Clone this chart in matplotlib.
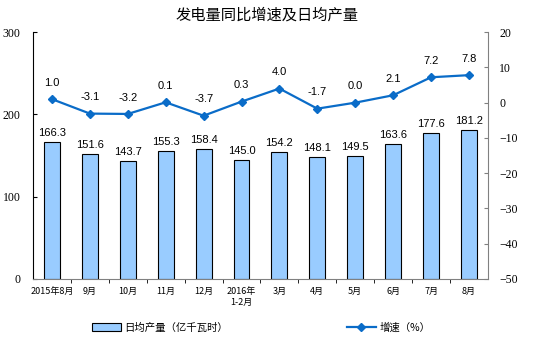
import matplotlib.pyplot as plt
from matplotlib.lines import Line2D
from matplotlib.patches import Patch

plt.rcParams['font.family'] = ['Noto Sans CJK SC', 'DejaVu Sans']

months = ['2015年8月', '9月', '10月', '11月', '12月', '2016年\n1-2月',
          '3月', '4月', '5月', '6月', '7月', '8月']
daily_output = [166.3, 151.6, 143.7, 155.3, 158.4, 145.0, 154.2, 148.1, 149.5, 163.6, 177.6, 181.2]
growth = [1.0, -3.1, -3.2, 0.1, -3.7, 0.3, 4.0, -1.7, 0.0, 2.1, 7.2, 7.8]

bar_color = '#99CCFF'
line_color = '#0A6CC8'

fig = plt.figure(figsize=(5.35, 3.57), dpi=100)
ax = fig.add_axes([0.0617, 0.2185, 0.8503, 0.6915])
ax2 = ax.twinx()

x = list(range(len(months)))
ax.bar(x, daily_output, width=0.42, color=bar_color, edgecolor='black', linewidth=0.8, zorder=2)
for xi, v in zip(x, daily_output):
    ax.text(xi, v + 5, f'{v:.1f}', ha='center', va='bottom', fontsize=8,
            family='Liberation Sans')

ax2.plot(x, growth, color=line_color, linewidth=1.6, marker='D', markersize=4, zorder=3)
for xi, v in zip(x, growth):
    ax2.text(xi, v + 3.2, f'{v:.1f}', ha='center', va='bottom', fontsize=8,
             family='Liberation Sans')

ax.set_xlim(-0.5, len(months) - 0.5)
ax.set_ylim(0, 300)
ax.set_yticks([0, 100, 200, 300])
ax2.set_ylim(-50, 20)
ax2.set_yticks(range(-50, 21, 10))

ax.set_xticks(x)
ax.set_xticklabels(months, fontsize=6.5)
ax.tick_params(axis='x', length=0, pad=6)
ax.set_xticks([i + 0.5 for i in x[:-1]], minor=True)
ax.tick_params(axis='x', which='minor', length=3, width=0.6, direction='out')

for lbl in ax.get_yticklabels() + ax2.get_yticklabels():
    lbl.set_family('Liberation Serif')
    lbl.set_fontsize(8.5)
ax.tick_params(axis='y', length=3, width=0.8, pad=9, direction='in')
ax2.tick_params(axis='y', length=3, width=0.8, pad=8, direction='in', color='#808080')

for a in (ax, ax2):
    a.spines['top'].set_visible(False)
ax2.spines['left'].set_visible(False)
ax2.spines['bottom'].set_visible(False)
ax2.spines['right'].set_color('#808080')
ax.spines['right'].set_visible(False)
ax.spines['bottom'].set_color('#808080')

fig.text(0.5, 0.935, '发电量同比增速及日均产量', ha='center', va='bottom', fontsize=11)

handles = [Patch(facecolor=bar_color, edgecolor='black', linewidth=0.8),
           Line2D([0], [0], color=line_color, linewidth=1.6, marker='D', markersize=4)]
fig.legend(handles, ['日均产量（亿千瓦时）', '增速（%）'], loc='center',
           bbox_to_anchor=(0.488, 0.083), ncol=2, frameon=False, fontsize=7.5,
           columnspacing=11.4, handlelength=2.8, handletextpad=0.3)

fig.savefig('out.png', dpi=100)
